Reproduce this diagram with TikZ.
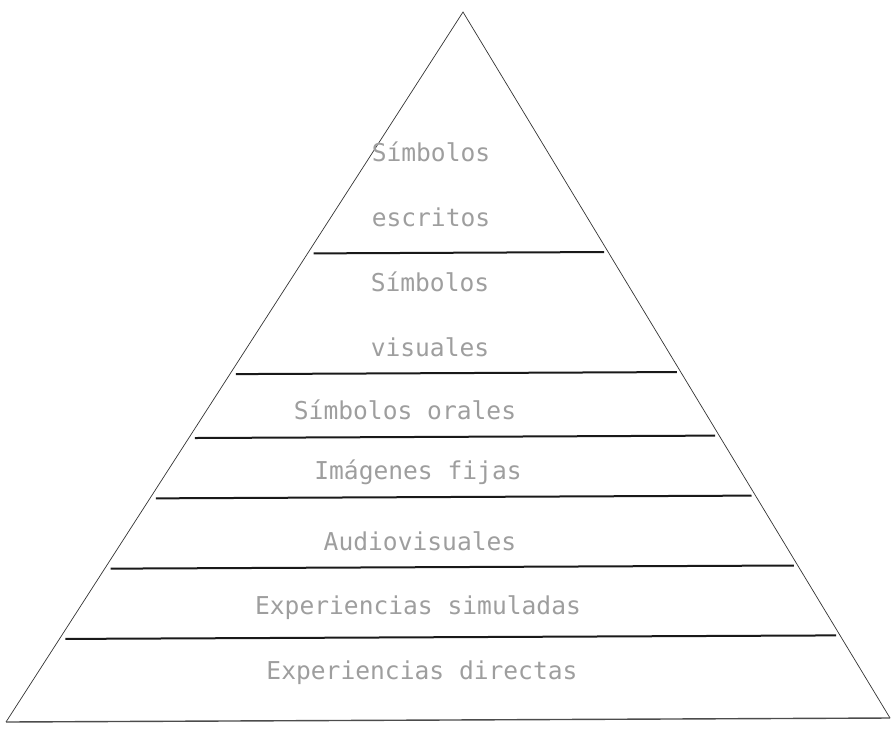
\documentclass[tikz,border=0pt]{standalone}
\usepackage{fontspec}
\newfontfamily\dotfont{DejaVu Sans Mono}
\usetikzlibrary{calc}
\tikzset{
	edge/.style={draw=black!80, line width=0.7pt},
	tier/.style={draw=black!90, line width=2pt},
	level/.style={font=\fontsize{24.6}{65}\selectfont\dotfont, text=black!38, align=center, inner sep=0pt}
}
\begin{document}
\begin{tikzpicture}[x=1pt, y=-1pt]
		\useasboundingbox (0,0) rectangle (892,729);
		\coordinate (apex) at (463,12);
		\coordinate (bl) at (6,722);
		\coordinate (br) at (890,718);
		% sides and base
		\draw[edge] (bl) -- (apex) -- (br);
		\draw[tier, line width=1.4pt, draw=black!70] (bl) -- (br);
		% tier lines
		\foreach \t/\n in {0.340/a, 0.510/b, 0.600/c, 0.685/d, 0.784/e, 0.883/f} {
				\coordinate (l\n) at ($(apex)!\t!(bl)$);
				\coordinate (r\n) at ($(apex)!\t!(br)$);
				\draw[tier] ([xshift=6pt]l\n) -- ([xshift=-4pt]r\n);
			}
		% labels
		\node[level] (escritos) at (431,184.5) {Símbolos\\escritos};
		\node[level] (visuales) at (430,314.5) {Símbolos\\visuales};
		\node[level] (orales) at (405,410) {Símbolos orales};
		\node[level] (fijas) at (418,472) {Imágenes fijas};
		\node[level] (audio) at (420,541) {Audiovisuales};
		\node[level] (simuladas) at (418,608) {Experiencias simuladas};
		\node[level] (directas) at (422,673) {Experiencias directas};
	\end{tikzpicture}
\end{document}
